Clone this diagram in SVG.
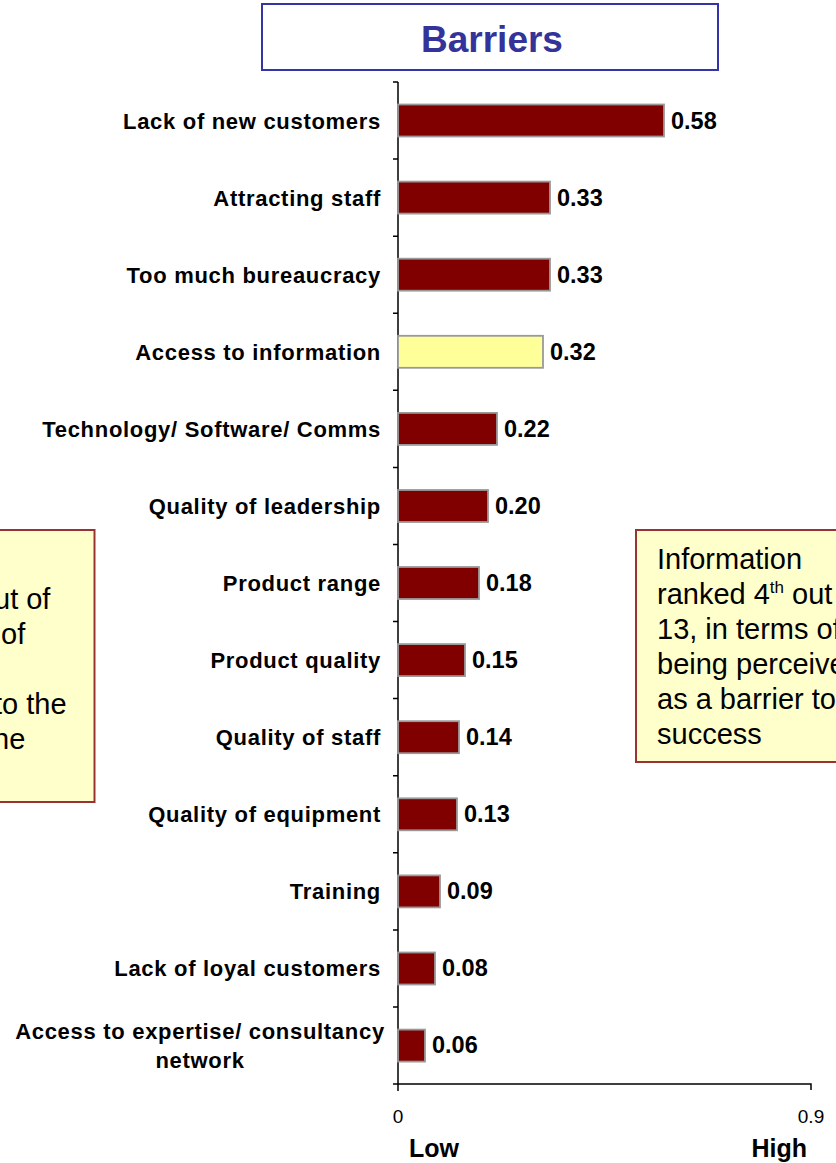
<svg xmlns="http://www.w3.org/2000/svg" width="836" height="1163" viewBox="0 0 836 1163">
<style>
.lbl{font-family:"Liberation Sans",Arial,sans-serif;font-weight:bold;font-size:22px;letter-spacing:0.7px;fill:#000;text-anchor:end}
.lbl.mid{text-anchor:middle}
.val{font-family:"Liberation Sans",Arial,sans-serif;font-weight:bold;font-size:23.5px;fill:#000}
.bar{fill:#800000;stroke:#999;stroke-width:1.8}
.bar.hl{fill:#ffff99}
.ax{stroke:#000;stroke-width:1.5;fill:none}
.note{fill:#ffffcc;stroke:#993333;stroke-width:2}
.nt{font-family:"Liberation Sans",Arial,sans-serif;font-size:29px;fill:#000}
.tick{font-family:"Liberation Sans",Arial,sans-serif;font-size:19px;fill:#000}
.end{font-family:"Liberation Sans",Arial,sans-serif;font-weight:bold;font-size:25px;fill:#000}
</style>
<rect width="836" height="1163" fill="#fff"/>
<g id="title">
<rect x="262" y="4" width="456" height="66" fill="#fff" stroke="#3333aa" stroke-width="2"/>
<text x="421" y="52" font-family="Liberation Sans,Arial,sans-serif" font-weight="bold" font-size="37" fill="#333399">Barriers</text>
</g>
<g id="axes">
<path class="ax" d="M398 82V1084M393 1084H811V1090M398 1084V1091"/>
<path class="ax" d="M393 82H398M393 159.1H398M393 236.2H398M393 313.2H398M393 390.3H398M393 467.4H398M393 544.5H398M393 621.6H398M393 698.6H398M393 775.7H398M393 852.8H398M393 929.9H398M393 1007H398"/>
<text class="tick" x="398" y="1123" text-anchor="middle">0</text>
<text class="tick" x="811" y="1123" text-anchor="middle">0.9</text>
<text class="end" x="409" y="1157">Low</text>
<text class="end" x="807" y="1157" text-anchor="end">High</text>
</g>
<g id="bar-lack-new-customers">
<rect class="bar" x="398" y="104.5" width="266" height="32"/>
<text class="lbl" x="381" y="129">Lack of new customers</text>
<text class="val" x="671" y="129">0.58</text>
</g>
<g id="bar-attracting-staff">
<rect class="bar" x="398" y="181.6" width="152" height="32"/>
<text class="lbl" x="381" y="206">Attracting staff</text>
<text class="val" x="557" y="206">0.33</text>
</g>
<g id="bar-bureaucracy">
<rect class="bar" x="398" y="258.7" width="152" height="32"/>
<text class="lbl" x="381" y="283">Too much bureaucracy</text>
<text class="val" x="557" y="283">0.33</text>
</g>
<g id="bar-access-information">
<rect class="bar hl" x="398" y="335.8" width="145" height="32"/>
<text class="lbl" x="381" y="360">Access to information</text>
<text class="val" x="550" y="360">0.32</text>
</g>
<g id="bar-technology">
<rect class="bar" x="398" y="412.9" width="99" height="32"/>
<text class="lbl" x="381" y="437">Technology/ Software/ Comms</text>
<text class="val" x="504" y="437">0.22</text>
</g>
<g id="bar-leadership">
<rect class="bar" x="398" y="490" width="90" height="32"/>
<text class="lbl" x="381" y="514">Quality of leadership</text>
<text class="val" x="495" y="514">0.20</text>
</g>
<g id="bar-product-range">
<rect class="bar" x="398" y="567" width="81" height="32"/>
<text class="lbl" x="381" y="591">Product range</text>
<text class="val" x="486" y="591">0.18</text>
</g>
<g id="bar-product-quality">
<rect class="bar" x="398" y="644.1" width="67" height="32"/>
<text class="lbl" x="381" y="668">Product quality</text>
<text class="val" x="472" y="668">0.15</text>
</g>
<g id="bar-quality-staff">
<rect class="bar" x="398" y="721.2" width="61" height="32"/>
<text class="lbl" x="381" y="745">Quality of staff</text>
<text class="val" x="466" y="745">0.14</text>
</g>
<g id="bar-equipment">
<rect class="bar" x="398" y="798.3" width="59" height="32"/>
<text class="lbl" x="381" y="822">Quality of equipment</text>
<text class="val" x="464" y="822">0.13</text>
</g>
<g id="bar-training">
<rect class="bar" x="398" y="875.4" width="42" height="32"/>
<text class="lbl" x="381" y="899">Training</text>
<text class="val" x="447" y="899">0.09</text>
</g>
<g id="bar-loyal-customers">
<rect class="bar" x="398" y="952.5" width="37" height="32"/>
<text class="lbl" x="381" y="976">Lack of loyal customers</text>
<text class="val" x="442" y="976">0.08</text>
</g>
<g id="bar-expertise">
<rect class="bar" x="398" y="1029.6" width="27" height="32"/>
<text class="lbl mid" x="200" y="1039">Access to expertise/ consultancy</text>
<text class="lbl mid" x="200" y="1068">network</text>
<text class="val" x="432" y="1053">0.06</text>
</g>
<g id="note-left">
<rect class="note" x="-10" y="530" width="104.5" height="272"/>
<text class="nt" x="-6" y="609">ut of</text>
<text class="nt" x="1" y="644">of</text>
<text class="nt" x="-6" y="714">to the</text>
<text class="nt" x="-7" y="749">he</text>
</g>
<g id="note-right">
<rect class="note" x="636" y="530" width="220" height="232"/>
<text class="nt" x="657" y="569">Information</text>
<text class="nt" x="657" y="604">ranked 4<tspan font-size="17" dy="-11">th</tspan><tspan dy="11"> out</tspan></text>
<text class="nt" x="657" y="639">13, in terms of</text>
<text class="nt" x="657" y="674">being perceived</text>
<text class="nt" x="657" y="709">as a barrier to</text>
<text class="nt" x="657" y="744">success</text>
</g>
</svg>
